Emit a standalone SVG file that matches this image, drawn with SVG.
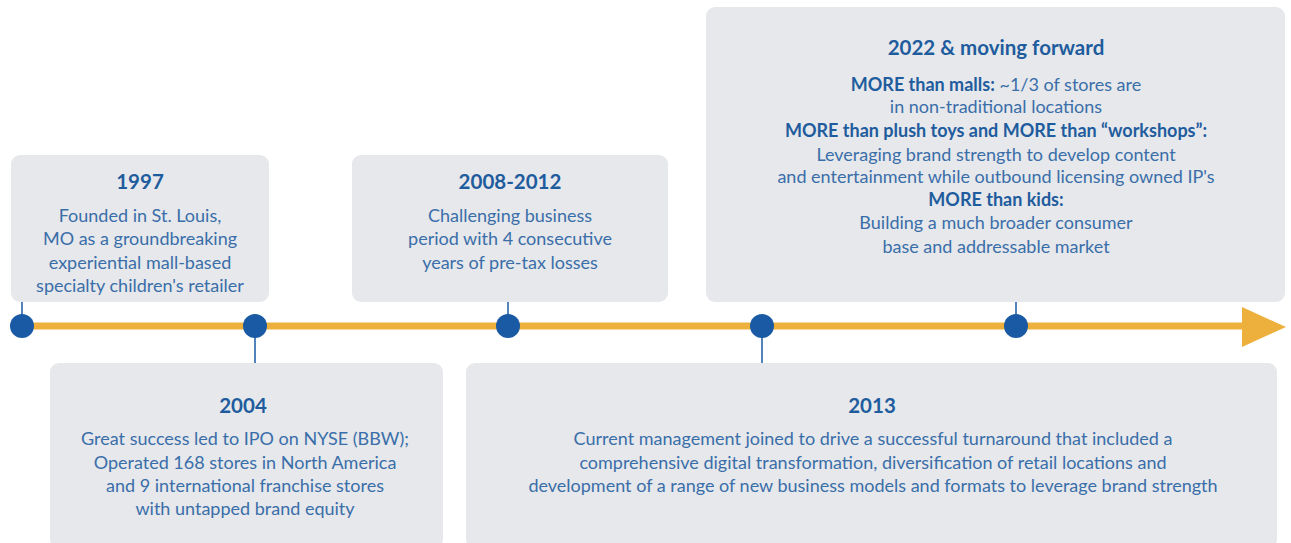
<svg xmlns="http://www.w3.org/2000/svg" width="1291" height="543" viewBox="0 0 1291 543">
<style>
.box{fill:#e6e8eb}
.t{font-family:Lato,"Open Sans","Liberation Sans",sans-serif;text-anchor:middle}
.h{font-size:20.5px;font-weight:bold;fill:#1f5c9e}
.b{font-size:18px;fill:#3a6ea9}
.bb{font-weight:bold;fill:#1f5c9e}
.dot{fill:#1a5aa4}
.stem{stroke:#1a5aa4;stroke-width:1.5}
</style>
<rect width="1291" height="543" fill="#ffffff"/>
<g id="connectors">
<line x1="22" y1="326" x2="1245" y2="326" stroke="#eeb03c" stroke-width="7"/>
<polygon points="1242,307 1286,327 1242,347" fill="#eeb03c"/>
<line class="stem" x1="22" y1="302" x2="22" y2="326"/>
<line class="stem" x1="255" y1="326" x2="255" y2="363"/>
<line class="stem" x1="508" y1="302" x2="508" y2="326"/>
<line class="stem" x1="762" y1="326" x2="762" y2="363"/>
<line class="stem" x1="1016" y1="302" x2="1016" y2="326"/>
<circle class="dot" cx="22" cy="326" r="12"/>
<circle class="dot" cx="255" cy="326" r="12"/>
<circle class="dot" cx="508" cy="326" r="12"/>
<circle class="dot" cx="762" cy="326" r="12"/>
<circle class="dot" cx="1016" cy="326" r="12"/>
</g>
<g id="n1997">
<rect class="box" x="11" y="155" width="258" height="147" rx="9"/>
<text class="t h" x="140" y="189">1997</text>
<text class="t b" x="140" y="222">Founded  in St. Louis,</text>
<text class="t b" x="140" y="245">MO as a groundbreaking</text>
<text class="t b" x="140" y="269">experiential mall-based</text>
<text class="t b" x="140" y="292">specialty children's retailer</text>
</g>
<g id="n2008">
<rect class="box" x="352" y="155" width="316" height="147" rx="9"/>
<text class="t h" x="510" y="189">2008-2012</text>
<text class="t b" x="510" y="222">Challenging business</text>
<text class="t b" x="510" y="245">period with 4 consecutive</text>
<text class="t b" x="510" y="269">years of pre-tax losses</text>
</g>
<g id="n2022">
<rect class="box" x="706" y="7" width="579" height="295" rx="9"/>
<text class="t h" x="996" y="55">2022 &amp; moving forward</text>
<text class="t b" x="996" y="91"><tspan class="bb">MORE than malls:</tspan> ~1/3 of stores are</text>
<text class="t b" x="996" y="113">in non-traditional  locations</text>
<text class="t b bb" x="996" y="137">MORE than plush toys and MORE than “workshops”:</text>
<text class="t b" x="996" y="161">Leveraging brand strength to develop content</text>
<text class="t b" x="996" y="183">and entertainment  while outbound  licensing owned IP's</text>
<text class="t b bb" x="996" y="206">MORE than kids:</text>
<text class="t b" x="996" y="229">Building a much broader consumer</text>
<text class="t b" x="996" y="253">base and addressable market</text>
</g>
<g id="n2004">
<rect class="box" x="50" y="363" width="393" height="185" rx="9"/>
<text class="t h" x="243" y="413">2004</text>
<text class="t b" x="245" y="445">Great success led to IPO on NYSE (BBW);</text>
<text class="t b" x="245" y="469">Operated 168 stores in North America</text>
<text class="t b" x="245" y="492">and 9 international franchise stores</text>
<text class="t b" x="245" y="515">with untapped brand equity</text>
</g>
<g id="n2013">
<rect class="box" x="466" y="363" width="811" height="185" rx="9"/>
<text class="t h" x="872" y="413">2013</text>
<text class="t b" x="873" y="445">Current management joined to drive a successful turnaround that included a</text>
<text class="t b" x="873" y="469">comprehensive digital transformation, diversification of retail locations and</text>
<text class="t b" x="873" y="492">development  of a range of new business models and formats to leverage brand strength</text>
</g>
</svg>
